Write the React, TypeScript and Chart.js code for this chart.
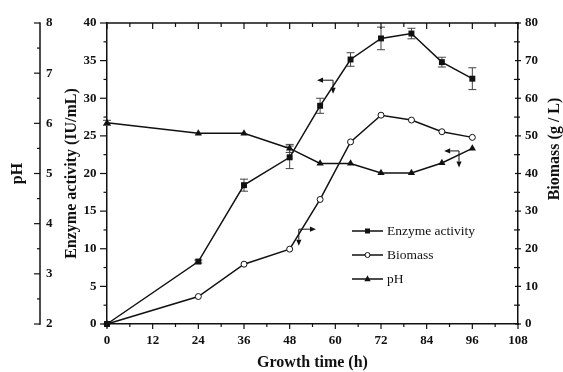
import React, { useEffect, useRef } from "react";
import { Chart, registerables } from "chart.js";
Chart.register(...registerables);

const hours = [0, 24, 36, 48, 56, 64, 72, 80, 88, 96];
const enzyme = [0, 8.3, 18.45, 22.15, 29.0, 35.15, 37.95, 38.6, 34.8, 32.6];
const enzymeErr = [0, 0.2, 0.8, 1.5, 1.0, 0.9, 1.5, 0.7, 0.65, 1.45];
const biomass = [0, 7.3, 15.9, 19.9, 33.1, 48.4, 55.5, 54.2, 51.1, 49.6];
const pH = [6.01, 5.8, 5.8, 5.5, 5.2, 5.2, 5.01, 5.01, 5.21, 5.5];
const pHErr = [0.05, 0, 0, 0.08, 0, 0, 0, 0, 0, 0];

const pHTicks = [2, 3, 4, 5, 6, 7, 8];
const legendLabels = ["Enzyme activity", "Biomass", "pH"];
const axisTitles = { x: "Growth time (h)", y: "Enzyme activity (IU/mL)", y2: "Biomass (g / L)", pH: "pH" };

// annotation arrows in (hours, enzyme units): [fromX, fromY, toX, toY]
const arrows: number[][] = [
  [59.4, 32.4, 55.2, 32.4],
  [59.4, 32.4, 59.4, 30.6],
  [50.4, 12.6, 54.9, 12.6],
  [50.4, 12.6, 50.4, 10.4],
  [92.5, 23.0, 88.6, 23.0],
  [92.5, 23.0, 92.5, 20.8],
];

const SERIF = "'Liberation Serif', 'Times New Roman', serif";
const INK = "#111";

function seg(ctx: CanvasRenderingContext2D, x1: number, y1: number, x2: number, y2: number) {
  ctx.beginPath();
  ctx.moveTo(x1, y1);
  ctx.lineTo(x2, y2);
  ctx.stroke();
}

function arrow(ctx: CanvasRenderingContext2D, x1: number, y1: number, x2: number, y2: number) {
  const ang = Math.atan2(y2 - y1, x2 - x1);
  const hl = 6;
  const hw = 2.6;
  const bx = x2 - Math.cos(ang) * hl;
  const by = y2 - Math.sin(ang) * hl;
  seg(ctx, x1, y1, bx, by);
  ctx.beginPath();
  ctx.moveTo(x2, y2);
  ctx.lineTo(bx - Math.sin(ang) * hw, by + Math.cos(ang) * hw);
  ctx.lineTo(bx + Math.sin(ang) * hw, by - Math.cos(ang) * hw);
  ctx.closePath();
  ctx.fill();
}

function marker(ctx: CanvasRenderingContext2D, kind: number, x: number, y: number, s: number) {
  ctx.beginPath();
  if (kind === 0) {
    ctx.rect(x - s, y - s, 2 * s, 2 * s);
    ctx.fill();
  } else if (kind === 1) {
    ctx.arc(x, y, s, 0, Math.PI * 2);
    ctx.fillStyle = "#fff";
    ctx.fill();
    ctx.fillStyle = INK;
    ctx.stroke();
  } else {
    ctx.moveTo(x, y - s * 1.2);
    ctx.lineTo(x + s, y + s * 0.7);
    ctx.lineTo(x - s, y + s * 0.7);
    ctx.closePath();
    ctx.fill();
  }
}

const decorPlugin = {
  id: "decor",
  beforeDatasetsDraw(chart: any) {
    const ctx = chart.ctx as CanvasRenderingContext2D;
    const xs = chart.scales.x;
    const ys = chart.scales.y;
    const yp = chart.scales.yPH;
    ctx.save();
    ctx.strokeStyle = "#444";
    ctx.lineWidth = 1;
    const bars = (vals: number[], errs: number[], sc: any) => {
      vals.forEach((v, i) => {
        const e = errs[i];
        if (!e) return;
        const x = xs.getPixelForValue(hours[i]);
        const y1 = sc.getPixelForValue(v + e);
        const y2 = sc.getPixelForValue(v - e);
        seg(ctx, x, y1, x, y2);
        seg(ctx, x - 4, y1, x + 4, y1);
        seg(ctx, x - 4, y2, x + 4, y2);
      });
    };
    bars(enzyme, enzymeErr, ys);
    bars(pH, pHErr, yp);
    ctx.restore();
  },
  afterDraw(chart: any) {
    const ctx = chart.ctx as CanvasRenderingContext2D;
    const { left, right, top, bottom } = chart.chartArea;
    const xs = chart.scales.x;
    const ys = chart.scales.y;
    const y2 = chart.scales.y2;
    const yp = chart.scales.yPH;
    ctx.save();
    ctx.strokeStyle = INK;
    ctx.fillStyle = INK;
    ctx.lineWidth = 1.5;
    // top border
    seg(ctx, left - 0.75, top, right + 0.75, top);
    ctx.lineWidth = 1.2;
    // x ticks
    for (let h = 0; h <= 108; h += 6) {
      const major = h % 12 === 0;
      const x = xs.getPixelForValue(h);
      seg(ctx, x, bottom, x, bottom + (major ? 5 : 3));
      seg(ctx, x, top, x, top + (major ? 6 : 4));
    }
    // left enzyme ticks
    for (let v = 0; v <= 40; v += 2.5) {
      const major = v % 5 === 0;
      const y = ys.getPixelForValue(v);
      seg(ctx, left, y, left - (major ? 7 : 3.5), y);
    }
    // right biomass ticks
    for (let b = 0; b <= 80; b += 5) {
      const major = b % 10 === 0;
      const y = y2.getPixelForValue(b);
      seg(ctx, right, y, right + (major ? 3 : 2), y);
      seg(ctx, right, y, right - (major ? 3 : 4), y);
    }
    // right axis title (reads upward)
    ctx.save();
    ctx.translate(559, 149);
    ctx.rotate(-Math.PI / 2);
    ctx.font = `bold 16px ${SERIF}`;
    ctx.textAlign = "center";
    ctx.textBaseline = "alphabetic";
    ctx.fillText(axisTitles.y2, 0, 0);
    ctx.restore();
    // pH axis
    const px = 40;
    ctx.lineWidth = 1.5;
    seg(ctx, px, yp.getPixelForValue(8) - 0.75, px, yp.getPixelForValue(2) + 0.75);
    ctx.lineWidth = 1.2;
    for (let p = 2; p <= 8.001; p += 0.5) {
      const major = Math.abs(p - Math.round(p)) < 1e-6;
      const y = yp.getPixelForValue(p);
      seg(ctx, px, y, px - (major ? 6 : 3), y);
    }
    ctx.font = `bold 13px ${SERIF}`;
    ctx.textAlign = "left";
    ctx.textBaseline = "middle";
    pHTicks.forEach((p) => ctx.fillText(String(p), px + 6, yp.getPixelForValue(p)));
    ctx.save();
    ctx.translate(17.5, (top + bottom) / 2);
    ctx.rotate(-Math.PI / 2);
    ctx.font = `bold 16px ${SERIF}`;
    ctx.textAlign = "center";
    ctx.fillText(axisTitles.pH, 0, 0);
    ctx.restore();
    // arrows
    ctx.lineWidth = 1;
    arrows.forEach((a) =>
      arrow(ctx, xs.getPixelForValue(a[0]), ys.getPixelForValue(a[1]), xs.getPixelForValue(a[2]), ys.getPixelForValue(a[3]))
    );
    // legend
    ctx.font = `13.5px ${SERIF}`;
    ctx.textAlign = "left";
    ctx.textBaseline = "middle";
    legendLabels.forEach((lab, i) => {
      const y = 231 + i * 24;
      ctx.lineWidth = 1.5;
      seg(ctx, 352, y, 383, y);
      ctx.lineWidth = 1;
      marker(ctx, i, 367.5, y, i === 0 ? 2.5 : i === 1 ? 2.5 : 3.2);
      ctx.fillStyle = INK;
      ctx.fillText(lab, 387, y);
    });
    ctx.restore();
  },
};

export default function App() {
  const ref = useRef<HTMLCanvasElement>(null);
  useEffect(() => {
    const tickFont = { family: SERIF, size: 13, weight: "bold" as const };
    const titleFont = { family: SERIF, size: 16, weight: "bold" as const };
    const common = {
      borderColor: INK,
      backgroundColor: INK,
      borderWidth: 1.5,
      tension: 0,
      showLine: true,
      clip: false as any,
      pointBorderColor: INK,
    };
    const chart = new Chart(ref.current!, {
      type: "line",
      data: {
        datasets: [
          {
            ...common,
            label: legendLabels[0],
            data: hours.map((h, i) => ({ x: h, y: enzyme[i] })),
            yAxisID: "y",
            pointStyle: "rect",
            pointRadius: 4.2,
            pointBackgroundColor: INK,
            pointBorderWidth: 0,
          },
          {
            ...common,
            label: legendLabels[1],
            data: hours.map((h, i) => ({ x: h, y: biomass[i] })),
            yAxisID: "y2",
            pointStyle: "circle",
            pointRadius: 3,
            pointBackgroundColor: "#fff",
            pointBorderWidth: 1,
          },
          {
            ...common,
            label: legendLabels[2],
            data: hours.map((h, i) => ({ x: h, y: pH[i] })),
            yAxisID: "yPH",
            pointStyle: "triangle",
            pointRadius: 4.2,
            pointBackgroundColor: INK,
            pointBorderWidth: 0,
          },
        ],
      },
      options: {
        responsive: false,
        devicePixelRatio: 1,
        animation: false,
        events: [],
        layout: { padding: { left: 62, top: 23, right: 0, bottom: 0 } },
        plugins: { legend: { display: false }, tooltip: { enabled: false } },
        scales: {
          x: {
            type: "linear",
            min: 0,
            max: 108,
            afterFit: (s: any) => {
              s.height = 48;
            },
            ticks: { stepSize: 12, color: INK, font: tickFont, padding: 8.5, maxRotation: 0 },
            grid: { display: false, drawTicks: false },
            border: { display: true, color: INK, width: 1.5 },
            title: { display: true, text: axisTitles.x, color: INK, font: titleFont, padding: 0 },
          },
          y: {
            type: "linear",
            position: "left",
            min: 0,
            max: 40,
            afterFit: (s: any) => {
              s.width = 45;
            },
            ticks: { stepSize: 5, color: INK, font: tickFont, padding: 10.5 },
            grid: { display: false, drawTicks: false },
            border: { display: true, color: INK, width: 1.5 },
            title: { display: true, text: axisTitles.y, color: INK, font: titleFont, padding: 0 },
          },
          y2: {
            type: "linear",
            position: "right",
            min: 0,
            max: 80,
            afterFit: (s: any) => {
              s.width = 45;
            },
            ticks: { stepSize: 10, color: INK, font: tickFont, padding: 7 },
            grid: { display: false, drawTicks: false },
            border: { display: true, color: INK, width: 1.5 },
            title: { display: false },
          },
          yPH: {
            type: "linear",
            display: false,
            min: 2,
            max: 8,
          },
        },
      },
      plugins: [decorPlugin],
    } as any);
    return () => chart.destroy();
  }, []);
  return (
    <div style={{ position: "fixed", left: 0, top: 0, width: 563, height: 372, background: "#fff" }}>
      <canvas ref={ref} width={563} height={372} style={{ display: "block", width: 563, height: 372 }} />
    </div>
  );
}
